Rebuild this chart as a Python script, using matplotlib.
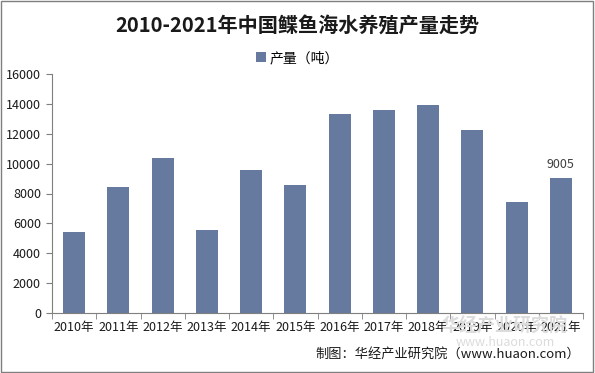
import numpy as np
import matplotlib.pyplot as plt

plt.rcParams['font.family'] = ['Noto Sans CJK SC', 'DejaVu Sans']

years = ['2010年', '2011年', '2012年', '2013年', '2014年', '2015年',
         '2016年', '2017年', '2018年', '2019年', '2020年', '2021年']
output = [5400, 8450, 10400, 5560, 9600, 8600, 13300, 13600, 13900, 12250, 7430, 9005]

bar_color = '#66799f'
grey = '#7f7f7f'

fig = plt.figure(figsize=(5.95, 3.73), dpi=100)
ax = fig.add_axes([52 / 595, 60 / 373, 531 / 595, 239 / 373])

x = np.arange(len(years))
ax.bar(x, output, width=0.5, color=bar_color, label='产量（吨）', zorder=2)
ax.text(x[-1], output[-1] + 500, '9005', ha='center', va='bottom', fontsize=9, color='#404040')

ax.set_xlim(-0.5, len(years) - 0.5)
ax.set_ylim(0, 16000)
ax.set_yticks(np.arange(0, 16001, 2000))
ax.set_xticks(x)
ax.set_xticklabels(years, fontsize=9)
ax.set_xticks(np.arange(-0.5, len(years), 1), minor=True)
ax.tick_params(axis='x', which='major', length=0, pad=6)
ax.tick_params(axis='x', which='minor', length=4, color=grey, direction='out')
ax.tick_params(axis='y', labelsize=9, length=4, color=grey, pad=4)
for lab in ax.get_yticklabels() + ax.get_xticklabels():
    lab.set_color('#1a1a1a')
for s in ['top', 'right']:
    ax.spines[s].set_visible(False)
for s in ['left', 'bottom']:
    ax.spines[s].set_color(grey)
    ax.spines[s].set_linewidth(0.8)

fig.text(0.5, 1 - 25 / 373, '2010-2021年中国鲽鱼海水养殖产量走势', ha='center', va='center',
         fontsize=14.5, fontweight='bold', color='#1a1a1a')
ax.legend(loc='center', bbox_to_anchor=(0.5, 1 - 58 / 373), bbox_transform=fig.transFigure,
          frameon=False, fontsize=10, handlelength=0.7, handleheight=0.7, handletextpad=0.3)

# watermark
fig.text(505 / 595, 1 - 326 / 373, '华经产业研究院', ha='center', va='center', fontsize=13,
         color='#dcdcdc', fontweight='bold', zorder=0)
fig.text(505 / 595, 1 - 342 / 373, 'www.huaon.com', ha='center', va='center', fontsize=9,
         color='#dcdcdc', zorder=0)

fig.text(580 / 595, 1 - 354 / 373, '制图：华经产业研究院（www.huaon.com）', ha='right', va='center',
         fontsize=9.5, color='#1a1a1a')

border = plt.Rectangle((0.002, 0.003), 0.995, 0.994, transform=fig.transFigure,
                       fill=False, edgecolor=grey, linewidth=1)
fig.patches.append(border)

fig.savefig('out.png', dpi=100)
